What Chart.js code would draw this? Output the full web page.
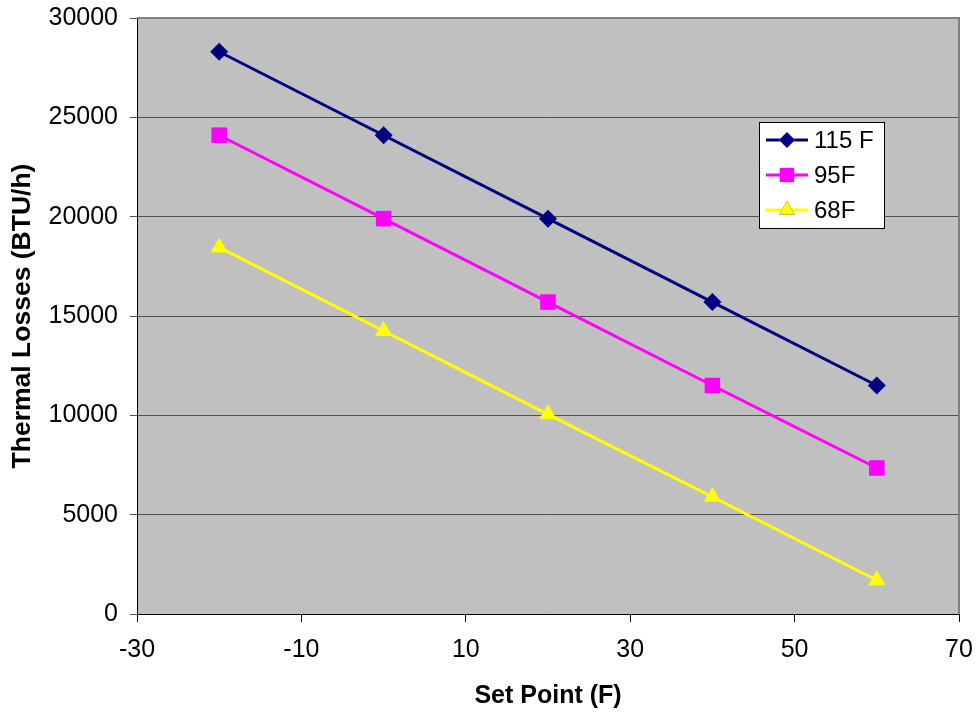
<!DOCTYPE html>
<html lang="en">
<head>
  <meta charset="UTF-8">
  <title>Thermal Losses vs Set Point</title>
  <script src="https://cdn.jsdelivr.net/npm/chart.js"></script>
  <style>
    html, body { margin: 0; padding: 0; background: #fff; }
    #wrap { width: 978px; height: 715px; }
  </style>
</head>
<body>
  <div id="wrap"><canvas id="chartLosses" width="978" height="715"></canvas></div>

  <script>
    // data
    const setPoints = [-20, 0, 20, 40, 60];
    const losses115 = [28300, 24100, 19900, 15700, 11500];
    const losses95 = [24100, 19900, 15700, 11500, 7350];
    const losses68 = [18450, 14250, 10050, 5900, 1700];
    const seriesNames = ['115 F', '95F', '68F'];
    const xTicks = [-30, -10, 10, 30, 50, 70];
    const yTicks = [0, 5000, 10000, 15000, 20000, 25000, 30000];

    const FONT = '"Liberation Sans", Arial, sans-serif';

    function toPoints(ys) {
      return setPoints.map((x, i) => ({ x, y: ys[i] }));
    }

    const styles = [
      { color: '#000080', point: 'rectRot', radius: 9 },
      { color: '#ff00ff', point: 'rect', radius: 11 },
      { color: '#ffff00', point: 'triangle', radius: 10 }
    ];
    const allSeries = [losses115, losses95, losses68];

    const datasets = allSeries.map((ys, i) => ({
      label: seriesNames[i],
      data: toPoints(ys),
      showLine: true,
      borderColor: styles[i].color,
      backgroundColor: styles[i].color,
      borderWidth: 3,
      pointStyle: styles[i].point,
      pointRadius: styles[i].radius,
      pointHoverRadius: styles[i].radius,
      pointBorderWidth: 0
    }));

    // grey plot background + grey top/right frame
    const plotBg = {
      id: 'plotBg',
      beforeDraw(chart) {
        const { ctx, chartArea: a } = chart;
        ctx.save();
        ctx.fillStyle = '#c0c0c0';
        ctx.fillRect(a.left, a.top, a.right - a.left, a.bottom - a.top);
        ctx.restore();
      },
      beforeDatasetsDraw(chart) {
        const { ctx, chartArea: a } = chart;
        ctx.save();
        ctx.strokeStyle = '#808080';
        ctx.lineWidth = 2;
        ctx.beginPath();
        ctx.moveTo(a.left, a.top);
        ctx.lineTo(a.right, a.top);
        ctx.lineTo(a.right, a.bottom);
        ctx.stroke();
        ctx.restore();
      }
    };

    // boxed legend inside the plot, like the original
    const boxLegend = {
      id: 'boxLegend',
      afterDraw(chart) {
        const { ctx } = chart;
        const bx = 759, by = 122, bw = 125, bh = 106;
        ctx.save();
        ctx.fillStyle = '#fff';
        ctx.fillRect(bx, by, bw, bh);
        ctx.strokeStyle = '#000';
        ctx.lineWidth = 1;
        ctx.strokeRect(bx + 0.5, by + 0.5, bw, bh);
        ctx.font = '24px ' + FONT;
        ctx.textBaseline = 'middle';
        chart.data.datasets.forEach((ds, i) => {
          const cy = by + 18 + i * 35;
          ctx.strokeStyle = ds.borderColor;
          ctx.lineWidth = 3;
          ctx.beginPath();
          ctx.moveTo(bx + 7, cy);
          ctx.lineTo(bx + 49, cy);
          ctx.stroke();
          Chart.helpers.drawPoint(ctx, {
            pointStyle: ds.pointStyle,
            radius: ds.pointRadius - 1,
            rotation: 0,
            borderWidth: 0
          }, bx + 28, cy);
          ctx.fillStyle = ds.backgroundColor;
          ctx.fill();
          ctx.fillStyle = '#000';
          ctx.fillText(ds.label, bx + 55, cy + 1);
        });
        ctx.restore();
      }
    };

    new Chart(document.getElementById('chartLosses'), {
      type: 'scatter',
      data: { datasets },
      plugins: [plotBg, boxLegend],
      options: {
        responsive: false,
        animation: false,
        layout: { padding: { left: 3, right: 19, top: 18, bottom: 0 } },
        plugins: {
          legend: { display: false },
          tooltip: { enabled: false }
        },
        scales: {
          x: {
            type: 'linear',
            min: -30,
            max: 70,
            afterBuildTicks: s => { s.ticks = xTicks.map(v => ({ value: v })); },
            afterFit: s => { s.height = 101; s.paddingLeft = 0; s.paddingRight = 0; },
            grid: { display: true, drawOnChartArea: false, drawTicks: true, tickLength: 8, color: '#000', lineWidth: 1 },
            border: { display: true, color: '#000', width: 1 },
            ticks: { color: '#000', font: { family: FONT, size: 25 }, padding: 13, maxRotation: 0, callback: v => String(v) },
            title: { display: true, text: 'Set Point (F)', color: '#000', font: { family: FONT, size: 25, weight: 'bold' }, padding: { top: 10 } }
          },
          y: {
            type: 'linear',
            min: 0,
            max: 30000,
            afterBuildTicks: s => { s.ticks = yTicks.map(v => ({ value: v })); },
            afterFit: s => { s.width = 134; s.paddingTop = 0; s.paddingBottom = 0; },
            grid: { display: true, drawOnChartArea: true, drawTicks: true, tickLength: 7, color: '#505050', lineWidth: 1 },
            border: { display: true, color: '#000', width: 1 },
            ticks: { color: '#000', font: { family: FONT, size: 25 }, padding: 12, callback: v => String(v) },
            title: { display: true, text: 'Thermal Losses (BTU/h)', color: '#000', font: { family: FONT, size: 26.5, weight: 'bold' }, padding: { top: 4, bottom: 0 } }
          }
        }
      }
    });
  </script>
</body>
</html>
